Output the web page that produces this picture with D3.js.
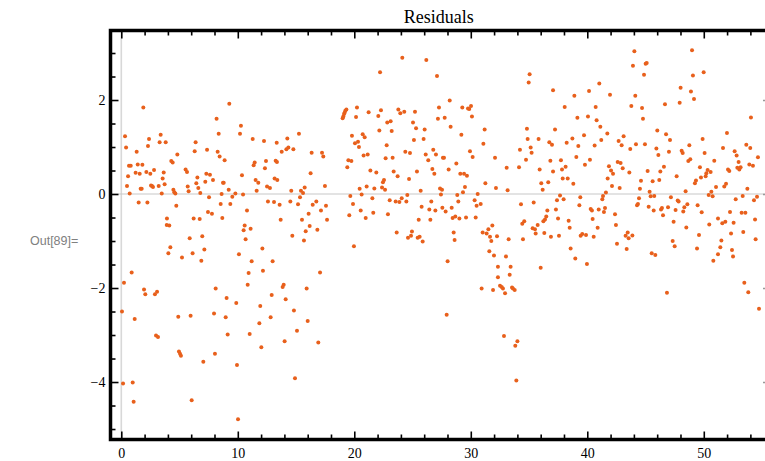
<!DOCTYPE html>
<html lang="en">
<head>
<meta charset="UTF-8">
<script src="https://cdn.jsdelivr.net/npm/d3@7"></script>
<style>
  html,body{margin:0;background:#fff;overflow:hidden;}
</style>
</head>
<body>
<svg id="chart" width="765" height="461"></svg>
<script>
// residuals, [x, residual], in blocks along x
var res00 = [[1.89,1.84],[0.32,1.23],[3.38,1.26],[0.41,0.99],[2.38,1.17],[2.29,1.02],[3.29,1.10],[3.81,1.10],[1.32,0.90],[0.66,0.60],[0.81,0.60],[1.41,0.63],[1.81,0.62],[0.58,0.38],[1.23,0.45],[1.58,0.43],[2.15,0.47],[2.49,0.43],[2.81,0.51],[3.64,0.46],[3.55,0.33],[0.49,0.17],[1.66,0.11],[1.75,0.11],[2.55,0.18],[2.72,0.15],[2.64,0.17],[3.21,0.17],[3.72,0.21],[0.72,0.01],[3.47,0.01],[1.49,-0.18],[2.24,-0.18],[3.92,-0.52],[3.90,-0.66],[0.89,-1.67],[0.23,-1.89],[1.95,-2.03],[2.06,-2.13],[2.89,-2.13],[3.07,-2.08],[0.06,-2.50],[1.15,-2.66],[2.98,-3.01],[3.15,-3.04],[0.15,-4.03],[0.98,-4.01],[1.06,-4.42]];
var res04 = [[8.18,1.60],[8.36,1.28],[6.38,1.10],[6.30,0.91],[7.36,0.94],[8.27,0.90],[8.44,0.80],[4.81,0.84],[4.29,0.70],[4.41,0.67],[5.52,0.52],[5.64,0.47],[6.53,0.35],[7.30,0.43],[7.61,0.41],[7.21,0.26],[7.87,0.30],[6.44,0.23],[6.61,0.13],[5.70,0.16],[5.78,0.06],[6.78,0.02],[8.73,0.24],[4.47,0.09],[4.55,0.04],[4.64,0.01],[7.53,-0.07],[8.61,0.00],[8.53,-0.21],[4.72,-0.25],[7.44,-0.38],[7.78,-0.42],[8.67,-0.51],[6.21,-0.52],[6.73,-0.53],[4.12,-0.67],[5.87,-0.94],[6.95,-0.90],[4.21,-1.13],[4.04,-1.26],[7.13,-1.18],[6.12,-1.26],[5.21,-1.35],[6.87,-1.42],[8.10,-2.01],[7.96,-2.54],[4.89,-2.61],[5.95,-2.59],[4.95,-3.35],[5.04,-3.40],[5.12,-3.44],[8.04,-3.40],[7.04,-3.57],[6.04,-4.39]];
var res09 = [[9.27,1.92],[10.27,1.45],[10.19,1.28],[11.28,1.17],[12.25,1.13],[13.34,1.09],[8.87,0.72],[11.45,0.67],[11.36,0.61],[12.42,0.70],[12.33,0.55],[13.25,0.71],[13.36,0.68],[10.36,0.40],[11.53,0.30],[11.76,0.24],[13.16,0.33],[13.39,0.30],[8.79,0.24],[12.51,0.16],[12.76,0.13],[9.22,0.09],[11.62,0.07],[9.79,0.01],[9.53,-0.06],[10.45,-0.01],[9.36,-0.21],[12.59,-0.16],[13.11,-0.17],[10.79,-0.35],[10.59,-0.67],[10.50,-0.77],[11.10,-0.74],[10.67,-0.96],[12.11,-1.16],[10.10,-1.28],[11.19,-1.43],[12.99,-1.43],[12.16,-1.63],[10.93,-1.68],[10.85,-1.93],[12.91,-2.15],[9.04,-2.21],[9.87,-2.32],[11.93,-2.38],[8.96,-2.62],[12.82,-2.62],[11.85,-2.75],[9.13,-2.99],[11.02,-2.98],[12.02,-3.26],[9.93,-3.64],[10.02,-4.79]];
var res13 = [[15.25,1.28],[14.25,1.18],[13.77,0.90],[14.17,0.95],[14.34,0.99],[14.77,0.95],[16.34,0.88],[17.23,0.88],[17.34,0.80],[16.25,0.44],[17.48,0.17],[14.59,0.07],[15.74,0.14],[15.42,0.07],[15.60,0.02],[15.34,-0.07],[14.51,-0.16],[15.17,-0.22],[13.59,-0.23],[16.74,-0.16],[16.43,-0.23],[17.57,-0.25],[17.14,-0.35],[16.08,-0.42],[13.68,-0.55],[15.51,-0.55],[17.66,-0.55],[16.17,-0.68],[15.83,-0.79],[16.83,-0.76],[14.68,-0.89],[15.68,-0.99],[17.06,-1.67],[13.94,-1.93],[13.85,-1.98],[15.91,-2.01],[14.11,-2.24],[14.82,-2.48],[16.00,-2.70],[15.08,-2.91],[14.02,-3.13],[16.91,-3.16],[14.91,-3.92]];
var res18 = [[22.21,2.59],[19.00,1.61],[19.06,1.65],[19.12,1.70],[19.17,1.73],[19.23,1.77],[19.32,1.80],[20.23,1.84],[20.15,1.64],[21.23,1.74],[22.29,1.78],[22.06,1.66],[22.83,1.52],[22.15,1.35],[19.80,1.24],[20.72,1.27],[20.89,1.21],[20.32,1.11],[20.06,1.08],[20.40,1.00],[22.78,1.04],[20.80,0.82],[21.15,0.84],[19.49,0.72],[19.75,0.70],[19.40,0.57],[22.69,0.76],[21.38,0.50],[21.89,0.46],[22.55,0.30],[22.46,0.25],[21.06,0.16],[20.46,0.11],[21.72,0.12],[22.38,0.14],[22.64,0.09],[19.66,-0.04],[20.63,-0.01],[21.55,-0.09],[19.89,-0.21],[20.55,-0.35],[19.57,-0.45],[21.63,-0.40],[20.98,-0.51],[22.89,-0.43],[19.97,-1.11]];
var res23 = [[24.12,2.90],[26.18,2.85],[27.10,2.51],[23.78,1.80],[23.95,1.72],[24.29,1.75],[25.21,1.75],[27.27,1.84],[27.18,1.60],[23.12,1.55],[25.04,1.52],[25.30,1.40],[26.04,1.37],[23.21,1.34],[25.12,1.15],[25.95,1.17],[26.78,0.94],[24.38,0.90],[24.78,0.87],[26.13,0.84],[27.01,0.84],[23.29,0.77],[26.35,0.72],[27.61,0.77],[23.38,0.48],[23.72,0.38],[25.38,0.48],[26.70,0.53],[26.87,0.43],[24.70,0.32],[25.70,0.07],[27.36,0.12],[27.53,0.09],[24.55,-0.02],[27.44,-0.01],[24.07,-0.09],[23.04,-0.13],[23.55,-0.16],[23.87,-0.17],[24.47,-0.16],[26.61,-0.16],[25.78,-0.27],[27.56,-0.29],[26.44,-0.33],[26.96,-0.35],[25.53,-0.55],[26.53,-0.55],[23.64,-0.82],[24.95,-0.80],[24.87,-0.89],[24.61,-0.93],[25.44,-0.93],[25.61,-0.91],[25.87,-1.01]];
var res27 = [[28.19,1.99],[29.27,1.84],[29.76,1.82],[29.87,1.81],[30.02,1.87],[27.76,1.62],[30.10,1.65],[28.27,1.43],[31.19,1.37],[29.19,1.26],[31.08,1.07],[29.93,0.91],[30.16,0.79],[27.70,0.77],[32.08,0.77],[28.76,0.65],[28.10,0.52],[29.10,0.43],[29.42,0.43],[29.67,0.39],[31.25,0.23],[29.50,0.15],[32.16,0.13],[29.33,0.04],[28.84,-0.02],[30.59,0.00],[28.93,-0.16],[30.33,-0.13],[30.85,-0.21],[30.50,-0.25],[28.36,-0.29],[27.84,-0.37],[28.44,-0.51],[28.67,-0.48],[29.02,-0.52],[29.59,-0.50],[30.42,-0.50],[31.85,-0.67],[31.51,-0.75],[31.02,-0.82],[31.36,-0.84],[31.65,-0.91],[32.25,-0.90],[31.76,-1.00],[28.53,-0.82],[28.61,-0.98],[31.59,-1.22],[31.99,-1.31],[28.01,-1.43],[32.33,-1.55],[32.33,-1.77],[30.93,-2.01],[31.91,-2.04],[27.93,-2.57]];
var res32 = [[35.05,2.55],[34.97,2.37],[37.06,2.21],[34.82,1.39],[34.88,1.17],[35.82,1.17],[36.74,1.10],[36.97,1.05],[34.22,0.94],[35.14,0.99],[35.22,0.88],[34.74,0.73],[36.83,0.71],[33.08,0.56],[34.14,0.57],[35.91,0.52],[37.06,0.48],[36.05,0.23],[36.65,0.25],[36.17,0.09],[33.16,0.08],[34.31,-0.22],[35.40,-0.18],[36.57,-0.35],[36.48,-0.48],[36.37,-0.54],[36.23,-0.58],[34.42,-0.63],[34.59,-0.58],[35.74,-0.66],[35.31,-0.73],[35.51,-0.75],[35.57,-0.84],[36.31,-0.83],[33.25,-0.96],[34.48,-0.96],[36.88,-0.91],[33.02,-1.33],[33.42,-1.55],[36.00,-1.57],[33.34,-1.72],[32.51,-1.95],[32.65,-1.98],[32.76,-2.01],[33.54,-1.99],[33.62,-2.01],[33.77,-2.04],[32.94,-2.11],[32.85,-3.02],[34.00,-3.13],[33.82,-3.23],[33.91,-3.97]];
var res37 = [[41.03,2.35],[40.15,2.19],[38.89,2.09],[38.06,1.85],[40.72,1.85],[39.15,1.62],[40.06,1.65],[40.80,1.57],[41.12,1.43],[37.23,1.37],[41.72,1.29],[39.72,1.25],[38.72,1.18],[41.20,1.15],[38.23,1.09],[39.23,1.02],[40.63,1.03],[39.06,0.79],[37.74,0.72],[40.23,0.73],[38.14,0.58],[39.80,0.62],[37.83,0.52],[37.89,0.33],[38.32,0.33],[38.80,0.22],[41.75,0.33],[41.60,0.03],[41.35,-0.04],[41.29,-0.11],[37.66,-0.03],[39.40,-0.07],[37.40,-0.13],[37.97,-0.11],[39.32,-0.24],[37.31,-0.33],[40.29,-0.32],[40.40,-0.35],[40.98,-0.33],[41.52,-0.30],[41.43,-0.38],[37.49,-0.52],[38.40,-0.57],[40.46,-0.53],[40.89,-0.72],[38.49,-0.72],[37.57,-0.89],[39.43,-0.89],[39.57,-0.85],[39.89,-0.87],[40.55,-0.91],[38.57,-1.16],[38.97,-1.37],[39.97,-1.49]];
var res42 = [[44.04,3.04],[43.92,2.73],[45.01,2.77],[45.10,2.79],[44.87,2.54],[41.95,2.11],[44.12,2.09],[43.78,1.87],[44.70,1.83],[44.78,1.60],[46.01,1.35],[43.12,1.23],[42.69,1.13],[42.95,1.04],[44.18,1.06],[44.95,1.06],[45.93,0.97],[43.69,0.96],[46.10,0.83],[41.86,0.59],[42.61,0.68],[42.86,0.66],[42.04,0.50],[42.21,0.43],[43.04,0.55],[43.61,0.46],[45.18,0.49],[46.27,0.48],[44.61,0.28],[45.61,0.27],[46.18,0.30],[42.12,0.17],[42.78,0.13],[44.52,0.11],[45.35,0.05],[45.44,-0.05],[45.75,-0.04],[44.44,-0.09],[44.35,-0.21],[44.27,-0.24],[45.27,-0.27],[45.70,-0.35],[46.33,-0.33],[46.41,-0.30],[42.38,-0.43],[46.50,-0.45],[42.46,-0.66],[43.47,-0.82],[43.29,-0.89],[43.87,-0.88],[43.55,-0.94],[42.55,-1.06],[43.38,-1.17],[45.53,-1.26],[45.84,-1.30]];
var res46 = [[48.99,3.06],[49.99,2.59],[49.07,2.52],[48.01,2.26],[48.90,2.18],[49.16,2.02],[46.67,1.91],[47.93,1.94],[46.76,1.27],[47.10,1.15],[49.90,1.17],[48.76,1.04],[47.01,0.90],[48.10,0.92],[48.19,0.87],[50.07,0.87],[48.84,0.74],[48.67,0.70],[50.90,0.71],[46.58,0.58],[49.67,0.57],[50.33,0.51],[50.22,0.44],[50.59,0.47],[47.67,0.38],[49.33,0.29],[49.24,0.23],[49.76,0.35],[50.16,0.38],[51.05,0.15],[48.44,0.06],[50.65,0.05],[50.42,-0.02],[50.76,-0.05],[47.18,-0.07],[47.76,-0.14],[47.84,-0.16],[48.59,-0.22],[49.47,-0.24],[48.33,-0.28],[46.93,-0.28],[47.58,-0.34],[48.24,-0.37],[49.82,-0.39],[51.22,-0.52],[47.41,-0.59],[50.47,-0.65],[48.50,-0.71],[49.59,-0.87],[47.33,-1.00],[47.50,-1.11],[49.42,-1.16],[50.82,-1.42],[51.22,-1.28],[46.84,-2.10]];
var res51 = [[54.05,1.63],[51.99,1.30],[53.65,1.05],[51.65,0.98],[53.99,0.98],[52.65,0.91],[52.82,0.82],[54.65,0.78],[52.99,0.68],[53.91,0.63],[54.22,0.60],[52.08,0.52],[52.19,0.49],[52.88,0.56],[53.05,0.52],[53.16,0.57],[51.91,0.22],[51.76,0.16],[53.74,0.11],[53.34,-0.04],[54.57,-0.06],[54.31,-0.13],[52.74,-0.11],[52.25,-0.38],[53.25,-0.40],[53.57,-0.40],[54.40,-0.54],[52.56,-0.61],[51.59,-0.62],[51.85,-0.59],[52.34,-0.84],[53.39,-0.81],[51.51,-0.99],[54.45,-0.96],[51.42,-1.13],[52.42,-1.19],[52.51,-1.33],[53.48,-1.89],[53.82,-2.09],[54.74,-2.44]];

var xTicks = [0, 10, 20, 30, 40, 50];
var xMinor = [2, 4, 6, 8, 12, 14, 16, 18, 22, 24, 26, 28, 32, 34, 36, 38, 42, 44, 46, 48, 52, 54];
var yTicks = [-4, -2, 0, 2];
var yMinor = [-5, -4.5, -3.5, -3, -2.5, -1.5, -1, -0.5, 0.5, 1, 1.5, 2.5, 3];
var title = "Residuals";
var outLabel = "Out[89]=";

var data = [].concat(res00, res04, res09, res13, res18, res23, res27, res32, res37, res42, res46, res51);

var svg = d3.select("#chart");
// frame edges (plotT, not top: window.top is read-only). right edge sits just past the window
var plotL = 110.5, plotR = 771, plotT = 30.5, plotB = 439.5;

var x = d3.scaleLinear().domain([-0.927, 55.77]).range([plotL, plotR]);
var y = d3.scaleLinear().domain([-5.223, 3.479]).range([plotB, plotT]);

// grey zero lines
svg.append("line")
    .attr("x1", x(0)).attr("x2", x(0)).attr("y1", plotT).attr("y2", plotB)
    .attr("stroke", "#d8d8d8").attr("stroke-width", 1.6);
svg.append("line")
    .attr("x1", plotL).attr("x2", plotR).attr("y1", y(0)).attr("y2", y(0))
    .attr("stroke", "#c8c8c8").attr("stroke-width", 1.2);

// points
svg.append("g").selectAll("circle")
    .data(data)
  .enter().append("circle")
    .attr("cx", function(d) { return x(d[0]); })
    .attr("cy", function(d) { return y(d[1]); })
    .attr("r", 2)
    .attr("fill", "#e8601c");

// frame ticks, all pointing inwards
function ticks(axis, vals, size, fmt) {
  return axis.tickValues(vals).tickSizeInner(-size).tickSizeOuter(0).tickPadding(5).tickFormat(fmt);
}
var none = function() { return ""; };
var fmt = d3.format("");

var gB = svg.append("g").attr("transform", "translate(0," + plotB + ")");
gB.append("g").call(ticks(d3.axisBottom(x), xTicks, 8, fmt));
gB.append("g").call(ticks(d3.axisBottom(x), xMinor, 5, none));
var gT = svg.append("g").attr("transform", "translate(0," + plotT + ")");
gT.append("g").call(ticks(d3.axisTop(x), xTicks, 8, none));
gT.append("g").call(ticks(d3.axisTop(x), xMinor, 5, none));
var gL = svg.append("g").attr("transform", "translate(" + plotL + ",0)");
gL.append("g").call(ticks(d3.axisLeft(y), yTicks, 8, fmt));
gL.append("g").call(ticks(d3.axisLeft(y), yMinor, 5, none));
var gR = svg.append("g").attr("transform", "translate(" + plotR + ",0)");
gR.append("g").call(ticks(d3.axisRight(y), yTicks, 8, none));
gR.append("g").call(ticks(d3.axisRight(y), yMinor, 5, none));

svg.selectAll(".domain").remove();
svg.selectAll(".tick line").attr("stroke", "#000").attr("stroke-width", 1.6);
gR.selectAll(".tick line").attr("stroke", "#999");
svg.selectAll(".tick text")
    .attr("font-family", "'Liberation Serif', 'Times New Roman', serif")
    .attr("font-size", 14).attr("fill", "#000");
gB.selectAll(".tick text").attr("dy", "0.95em");

svg.append("rect")
    .attr("x", plotL).attr("y", plotT)
    .attr("width", plotR - plotL).attr("height", plotB - plotT)
    .attr("fill", "none").attr("stroke", "#000").attr("stroke-width", 3.5);

svg.append("text")
    .attr("x", (plotL + 767) / 2).attr("y", 23)
    .attr("text-anchor", "middle")
    .attr("font-family", "'Liberation Serif', 'Times New Roman', serif")
    .attr("font-size", 18)
    .text(title);

svg.append("text")
    .attr("x", 30).attr("y", 245)
    .attr("font-family", "'Liberation Sans', Arial, sans-serif")
    .attr("font-size", 12.5).attr("fill", "#808080")
    .text(outLabel);
</script>
</body>
</html>
